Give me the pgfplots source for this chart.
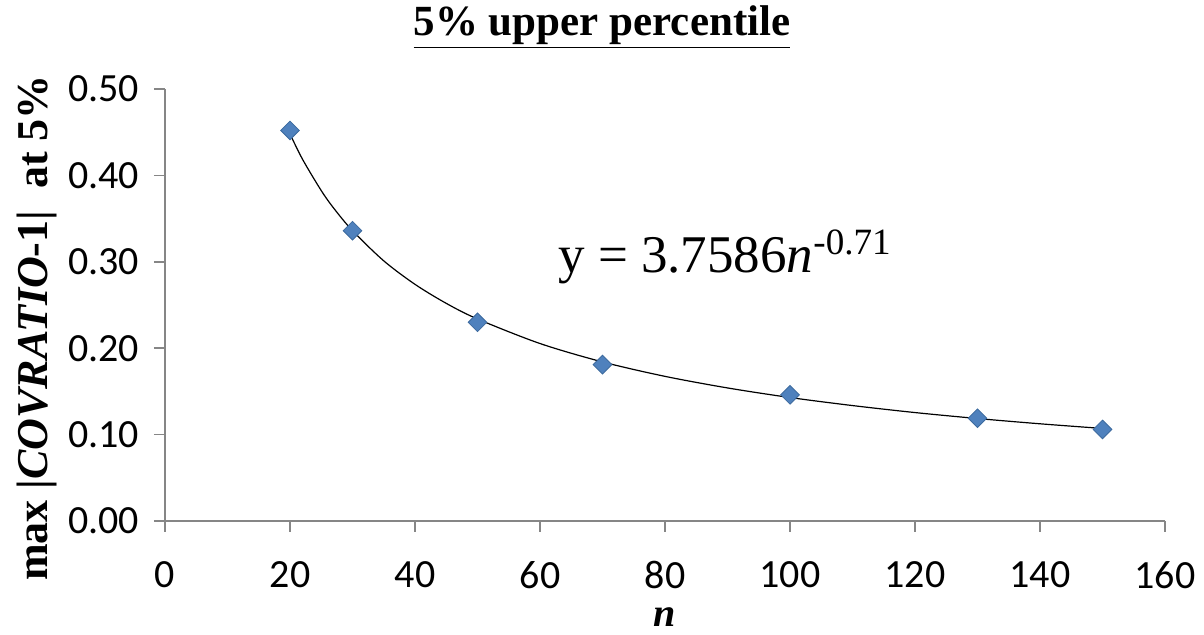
\documentclass[border=0pt]{standalone}
\usepackage{pgfplots}
\pgfplotsset{compat=1.18}
\usepackage{fontspec}
\setmainfont{Liberation Serif}
\newfontfamily\calibri{Carlito}
\definecolor{axgray}{HTML}{868686}
\definecolor{mblue}{HTML}{4F81BD}
\definecolor{mblueedge}{HTML}{3C6A9E}
\begin{document}
\begin{tikzpicture}
\useasboundingbox (-82.5pt,-57pt) rectangle (519.5pt,260.5pt);
\begin{axis}[
  at={(0pt,0pt)}, anchor=south west,
  scale only axis, width=500pt, height=216pt,
  xmin=0, xmax=160, ymin=0, ymax=0.5,
  xtick={0,20,...,160}, ytick={0,0.1,0.2,0.3,0.4,0.5},
  axis x line=bottom, axis y line=left,
  axis line style={axgray, line width=0.75pt, -},
  tick style={axgray, line width=0.75pt},
  tick align=outside, major tick length=5.5pt,
  ticklabel style={font=\calibri\fontsize{20}{24}\selectfont, text=black},
  /pgf/number format/assume math mode=true,
  yticklabel style={/pgf/number format/fixed, /pgf/number format/fixed zerofill, /pgf/number format/precision=2, xshift=-4pt},
  xticklabel style={yshift=-11pt},
  clip=false,
]
\addplot[black, line width=0.6pt, smooth] coordinates {
(20,0.4480) (22,0.4187) (25,0.3824) (27,0.3620) (30,0.3360) (35,0.3011) (40,0.2739)
(45,0.2519) (50,0.2338) (60,0.2054) (70,0.1841) (80,0.1674) (90,0.1540)
(100,0.1429) (110,0.1336) (120,0.1255) (130,0.1186) (140,0.1125) (150,0.1071)
};
\addplot[only marks, mark=square*, mark size=3.3pt,
  mark options={rotate=45, fill=mblue, draw=mblueedge, line width=0.4pt}] coordinates {
(20,0.452) (30,0.336) (50,0.230) (70,0.181) (100,0.146) (130,0.119) (150,0.106)
};
\node[font=\fontsize{26.5}{30}\selectfont] at (axis cs:89.6,0.306) {y = 3.7586\textit{n}\textsuperscript{-0.71}};
\end{axis}
\node[font=\bfseries\fontsize{21.5}{25}\selectfont] at (218.5pt,247pt) {\underline{5\% upper percentile}};
\node[rotate=90, font=\bfseries\fontsize{22}{26}\selectfont] at (-64pt,96.5pt) {max |\textit{COVRATIO}-1|\ \ at 5\%};
\node[font=\bfseries\itshape\fontsize{20}{24}\selectfont, anchor=base, inner sep=0pt] at (250pt,-53pt) {n};
\end{tikzpicture}
\end{document}
